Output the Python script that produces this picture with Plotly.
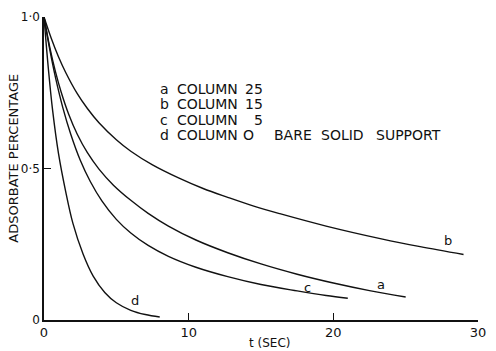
import plotly.graph_objects as go

# Desorption curves: adsorbate fraction remaining vs time (s)
t_a = [0, 0.4, 0.8, 1.2, 1.7, 2.3, 3.0, 3.8, 4.8, 6.0, 7.2, 8.6, 10.5, 12.7, 15.0, 17.5, 20.0, 22.5, 25.0]
v_a = [1.0, 0.900, 0.818, 0.750, 0.680, 0.613, 0.552, 0.498, 0.445, 0.395, 0.352, 0.310,
       0.264, 0.222, 0.185, 0.151, 0.122, 0.097, 0.076]

t_b = [0, 0.5, 1.0, 1.5, 2.3, 3.0, 3.8, 5.0, 6.0, 7.5, 9.3, 11.0, 12.7, 14.5, 16.3, 19.5, 23.4, 26.0, 29.0]
v_b = [1.0, 0.930, 0.869, 0.817, 0.747, 0.698, 0.651, 0.595, 0.557, 0.512, 0.469, 0.434,
       0.405, 0.376, 0.351, 0.310, 0.267, 0.242, 0.216]

t_c = [0, 0.4, 0.8, 1.3, 1.85, 2.5, 3.2, 4.0, 5.0, 6.0, 7.2, 8.6, 10.5, 12.7, 15.0, 17.5, 19.5, 21.0]
v_c = [1.0, 0.892, 0.799, 0.701, 0.613, 0.528, 0.457, 0.393, 0.332, 0.287, 0.246, 0.210,
       0.174, 0.143, 0.117, 0.096, 0.081, 0.072]

t_d = [0, 0.3, 0.6, 1.0, 1.5, 2.0, 2.7, 3.4, 4.2, 5.0, 6.0, 7.0, 8.0]
v_d = [1.0, 0.830, 0.690, 0.550, 0.424, 0.319, 0.218, 0.145, 0.091, 0.057, 0.032, 0.018, 0.010]

curve_labels = ["a", "b", "c", "d"]
label_pos_t = [23.3, 27.9, 18.2, 6.3]
label_pos_v = [0.118, 0.262, 0.108, 0.066]

legend_keys = ["a", "b", "c", "d"]
legend_words = ["COLUMN", "COLUMN", "COLUMN", "COLUMN"]
legend_nums = ["25", "15", "5", "O"]
legend_note = ["BARE", "SOLID", "SUPPORT"]

x_ticks = [0, 10, 20, 30]
x_ticktext = ["0", "10", "20", "30"]
y_ticks = [0, 0.5, 1.0]
y_ticktext = ["0", "0·5", "1·0"]

FONT = "DejaVu Sans"
INK = "#111111"
L, R, T, B = 44, 10, 15, 31
W, H = 496, 351
plot_w = W - L - R
plot_h = H - T - B


def px_x(px):
    return (px - L) / plot_w


def px_y(py):
    return (H - B - py) / plot_h


fig = go.Figure()
for tt, vv in [(t_a, v_a), (t_b, v_b), (t_c, v_c), (t_d, v_d)]:
    fig.add_trace(go.Scatter(
        x=tt, y=vv, mode="lines",
        line=dict(color=INK, width=1.4, shape="spline", smoothing=1.0),
        hoverinfo="skip", showlegend=False,
    ))

annotations = []
for lab, lt, lv in zip(curve_labels, label_pos_t, label_pos_v):
    annotations.append(dict(x=lt, y=lv, text=lab, showarrow=False,
                            font=dict(family=FONT, size=13, color=INK)))

# key block, one row per curve
row_px = [87, 103, 118.5, 134]
key_font = dict(family=FONT, size=14, color=INK)
for i in range(4):
    yy = px_y(row_px[i])
    annotations.append(dict(xref="paper", yref="paper", x=px_x(160), y=yy,
                            text=legend_keys[i], xanchor="left", yanchor="middle",
                            showarrow=False, font=key_font))
    annotations.append(dict(xref="paper", yref="paper", x=px_x(177), y=yy,
                            text=legend_words[i], xanchor="left", yanchor="middle",
                            showarrow=False, font=key_font))
    annotations.append(dict(xref="paper", yref="paper", x=px_x(269 if legend_nums[i] != "O" else 260),
                            y=yy, text=legend_nums[i], xanchor="right", yanchor="middle",
                            showarrow=False, font=key_font))
for word, wx in zip(legend_note, [276, 324, 380]):
    annotations.append(dict(xref="paper", yref="paper", x=px_x(wx), y=px_y(row_px[3]),
                            text=word, xanchor="left", yanchor="middle",
                            showarrow=False, font=key_font))

# axis titles
annotations.append(dict(xref="paper", yref="paper", x=px_x(274), y=px_y(343),
                        text="t (SEC)", showarrow=False,
                        xanchor="center", yanchor="middle",
                        font=dict(family=FONT, size=12, color=INK)))
annotations.append(dict(xref="paper", yref="paper", x=px_x(12), y=px_y(157),
                        text="ADSORBATE PERCENTAGE", textangle=-90, showarrow=False,
                        xanchor="center", yanchor="middle",
                        font=dict(family=FONT, size=13, color=INK)))

fig.update_layout(
    width=W, height=H,
    margin=dict(l=L, r=R, t=T, b=B),
    paper_bgcolor="white", plot_bgcolor="white",
    annotations=annotations,
    font=dict(family=FONT, color=INK),
)
fig.update_xaxes(
    range=[0, 30], tickvals=x_ticks, ticktext=x_ticktext,
    ticks="inside", ticklen=7, tickwidth=1.3, tickcolor=INK,
    showline=True, linecolor=INK, linewidth=1.5,
    showgrid=False, zeroline=False,
    tickfont=dict(family=FONT, size=13, color=INK),
)
fig.update_yaxes(
    range=[0, 1.0], tickvals=y_ticks, ticktext=y_ticktext,
    ticks="inside", ticklen=7, tickwidth=1.3, tickcolor=INK,
    showline=True, linecolor=INK, linewidth=1.5,
    showgrid=False, zeroline=False,
    tickfont=dict(family=FONT, size=12, color=INK),
)

fig.write_html("out.html")
